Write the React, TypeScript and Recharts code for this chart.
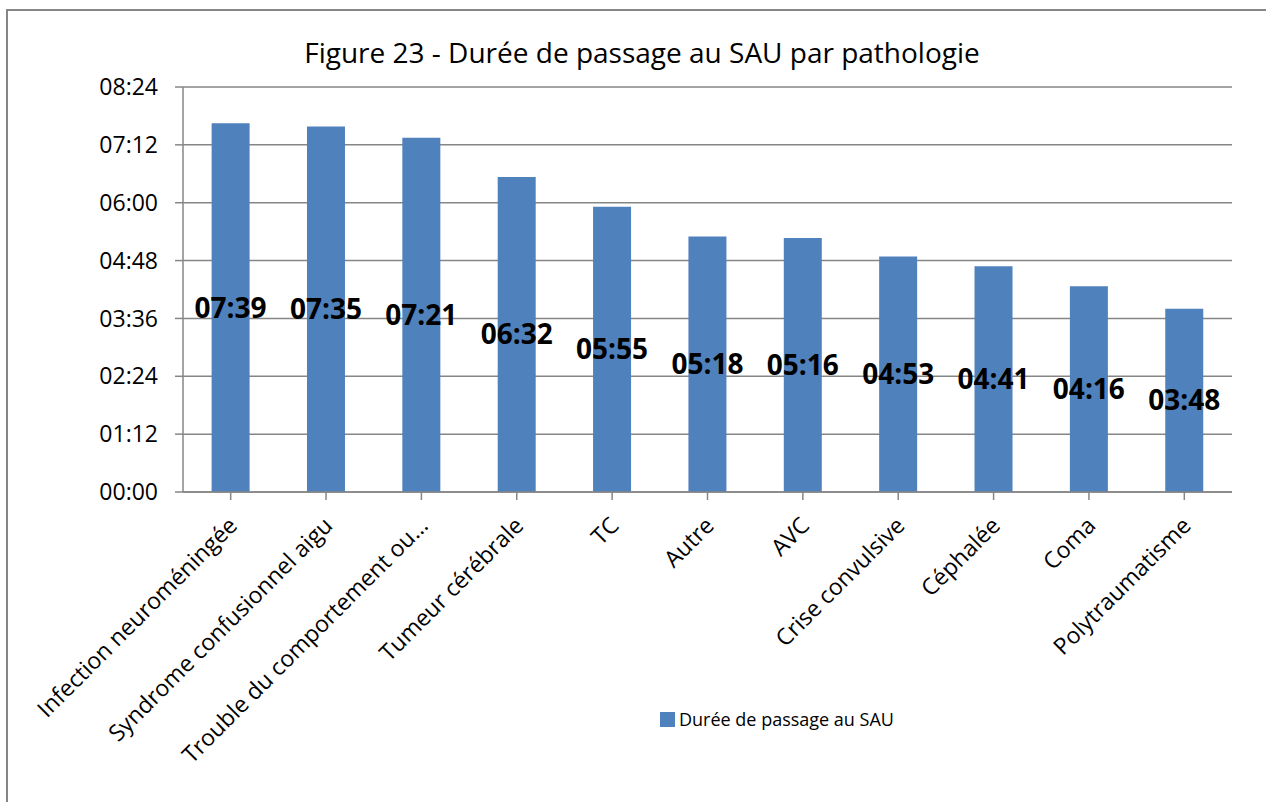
import { BarChart, Bar, XAxis, YAxis, CartesianGrid, Legend, LabelList } from "recharts";

const categories = [
  "Infection neuroméningée",
  "Syndrome confusionnel aigu",
  "Trouble du comportement ou…",
  "Tumeur cérébrale",
  "TC",
  "Autre",
  "AVC",
  "Crise convulsive",
  "Céphalée",
  "Coma",
  "Polytraumatisme",
];

// durée en minutes
const durations = [459, 455, 441, 392, 355, 318, 316, 293, 281, 256, 228];

const yTicks = [0, 72, 144, 216, 288, 360, 432, 504];

const seriesName = "Durée de passage au SAU";
const title = "Figure 23 - Durée de passage au SAU par pathologie";

const data = categories.map((name, i) => ({ name, duree: durations[i] }));

const FONT = "'Open Sans', sans-serif";
const BLUE = "#4F81BD";
const GRID = "#868686";

const hhmm = (m: number) => {
  const h = Math.floor(m / 60);
  const mm = Math.round(m % 60);
  return `${String(h).padStart(2, "0")}:${String(mm).padStart(2, "0")}`;
};

const XTick = (props: any) => {
  const { x, y, payload } = props;
  const ax = x + 8;
  const ay = y + 25;
  return (
    <text
      x={ax}
      y={ay}
      textAnchor="end"
      fontFamily={FONT}
      fontSize={23}
      fill="#000"
      transform={`rotate(-45, ${ax}, ${ay})`}
    >
      {payload.value}
    </text>
  );
};

const LegendContent = () => (
  <div style={{ display: "flex", alignItems: "center", fontFamily: FONT, fontSize: 18, color: "#000" }}>
    <span style={{ width: 15, height: 15, background: BLUE, display: "inline-block", marginRight: 4 }} />
    <span>{seriesName}</span>
  </div>
);

export default function App() {
  return (
    <div style={{ position: "absolute", left: 0, top: 0, width: 1266, height: 802, overflow: "hidden", background: "#fff" }}>
      <div
        style={{
          position: "absolute",
          left: 6,
          top: 9,
          width: 1400,
          height: 1000,
          border: `2px solid ${GRID}`,
        }}
      />
      <div
        style={{
          position: "absolute",
          left: 0,
          top: 33,
          width: 1266,
          textAlign: "center",
          fontFamily: FONT,
          fontSize: 28,
          color: "#000",
          lineHeight: "38px",
        }}
      >
        <span style={{ position: "relative", left: 9 }}>{title}</span>
      </div>
      <div style={{ position: "absolute", left: 0, top: 0 }}>
        <BarChart
          width={1266}
          height={802}
          data={data}
          margin={{ top: 87, right: 34, bottom: 110, left: 103 }}
          barCategoryGap="30%"
        >
          <CartesianGrid vertical={false} stroke={GRID} strokeWidth={1.5} />
          <XAxis
            dataKey="name"
            interval={0}
            height={200}
            tick={<XTick />}
            tickSize={8}
            stroke={GRID}
            strokeWidth={1.5}
          />
          <YAxis
            width={80}
            domain={[0, 504]}
            ticks={yTicks}
            tickFormatter={hhmm}
            tickSize={8}
            tickMargin={17}
            stroke={GRID}
            strokeWidth={1.5}
            tick={{ fill: "#000", fontFamily: FONT, fontSize: 23 }}
          />
          <Legend
            layout="vertical"
            align="center"
            verticalAlign="middle"
            wrapperStyle={{ position: "absolute", left: 660, top: 707, width: "auto" }}
            content={<LegendContent />}
          />
          <Bar dataKey="duree" name={seriesName} fill={BLUE} isAnimationActive={false}>
            <LabelList
              dataKey="duree"
              position="center"
              formatter={(v: any) => hhmm(Number(v))}
              fill="#000"
              fontFamily={FONT}
              fontSize={28}
              fontWeight="bold"
            />
          </Bar>
        </BarChart>
      </div>
    </div>
  );
}
